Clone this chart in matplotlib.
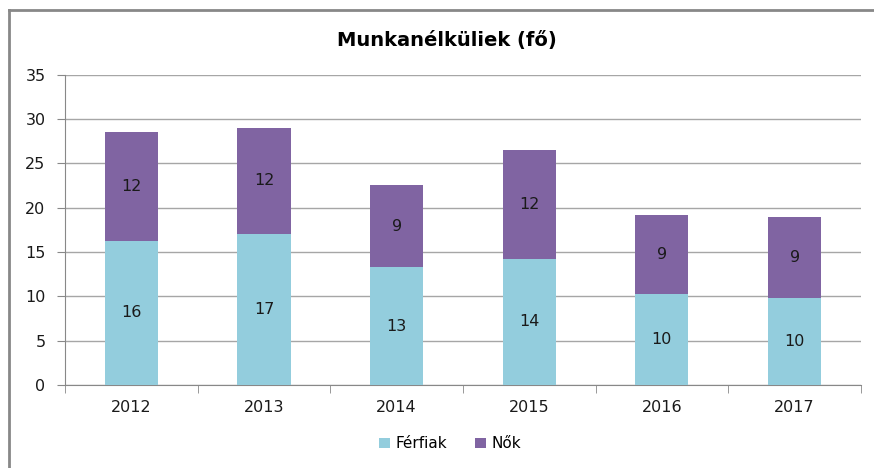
import numpy as np
import matplotlib.pyplot as plt
from matplotlib.lines import Line2D

years = ["2012", "2013", "2014", "2015", "2016", "2017"]
ferfiak = [16.25, 17.0, 13.25, 14.25, 10.25, 9.75]
nok = [12.25, 12.0, 9.25, 12.25, 8.9, 9.2]
series_names = ["Férfiak", "Nők"]
colors = ["#93CDDD", "#8064A2"]

plt.rcParams['font.family'] = ['DejaVu Sans']

fig = plt.figure(figsize=(8.74, 4.68), dpi=100)
ax = fig.add_axes([0.0744, 0.1774, 0.9106, 0.6634])

x = np.arange(len(years))
b1 = ax.bar(x, ferfiak, width=0.4, color=colors[0], label=series_names[0], zorder=3)
b2 = ax.bar(x, nok, width=0.4, bottom=ferfiak, color=colors[1], label=series_names[1], zorder=3)
ax.bar_label(b1, labels=[f"{v:.0f}" for v in ferfiak], label_type="center", fontsize=11.5, color="#1a1a1a")
ax.bar_label(b2, labels=[f"{v:.0f}" for v in nok], label_type="center", fontsize=11.5, color="#1a1a1a")

ax.set_xlim(-0.5, len(years) - 0.5)
ax.set_ylim(0, 35)
ax.set_yticks(range(0, 36, 5))
ax.set_xticks(x)
ax.set_xticklabels(years)
ax.set_xticks(np.arange(-0.5, len(years), 1), minor=True)
ax.tick_params(axis="x", which="major", length=0, pad=11, labelsize=11.5, colors="#1a1a1a")
ax.tick_params(axis="x", which="minor", length=6, color="#888888", direction="out")
ax.tick_params(axis="y", length=6, labelsize=11.5, colors="#1a1a1a", pad=8)
ax.tick_params(axis="y", color="#888888")

ax.grid(axis="y", color="#a6a6a6", linewidth=1, zorder=0)
for s in ["top", "right"]:
    ax.spines[s].set_visible(False)
ax.spines["left"].set_color("#888888")
ax.spines["bottom"].set_color("#888888")

fig.text(0.511, 0.913, "Munkanélküliek (fő)", ha="center", va="center", fontsize=14, fontweight="bold")

ax.legend(loc="center", bbox_to_anchor=(0.484, -0.19), ncol=2, frameon=False, fontsize=11,
          handlelength=0.7, handleheight=0.7, columnspacing=1.8, handletextpad=0.4)

# outer chart frame (left and top visible)
fig.add_artist(Line2D([9 / 874, 9 / 874], [0, 1 - 10 / 468], color="#888888", linewidth=2))
fig.add_artist(Line2D([9 / 874, 1], [1 - 10 / 468, 1 - 10 / 468], color="#888888", linewidth=2))

fig.savefig("out.png", dpi=100)
